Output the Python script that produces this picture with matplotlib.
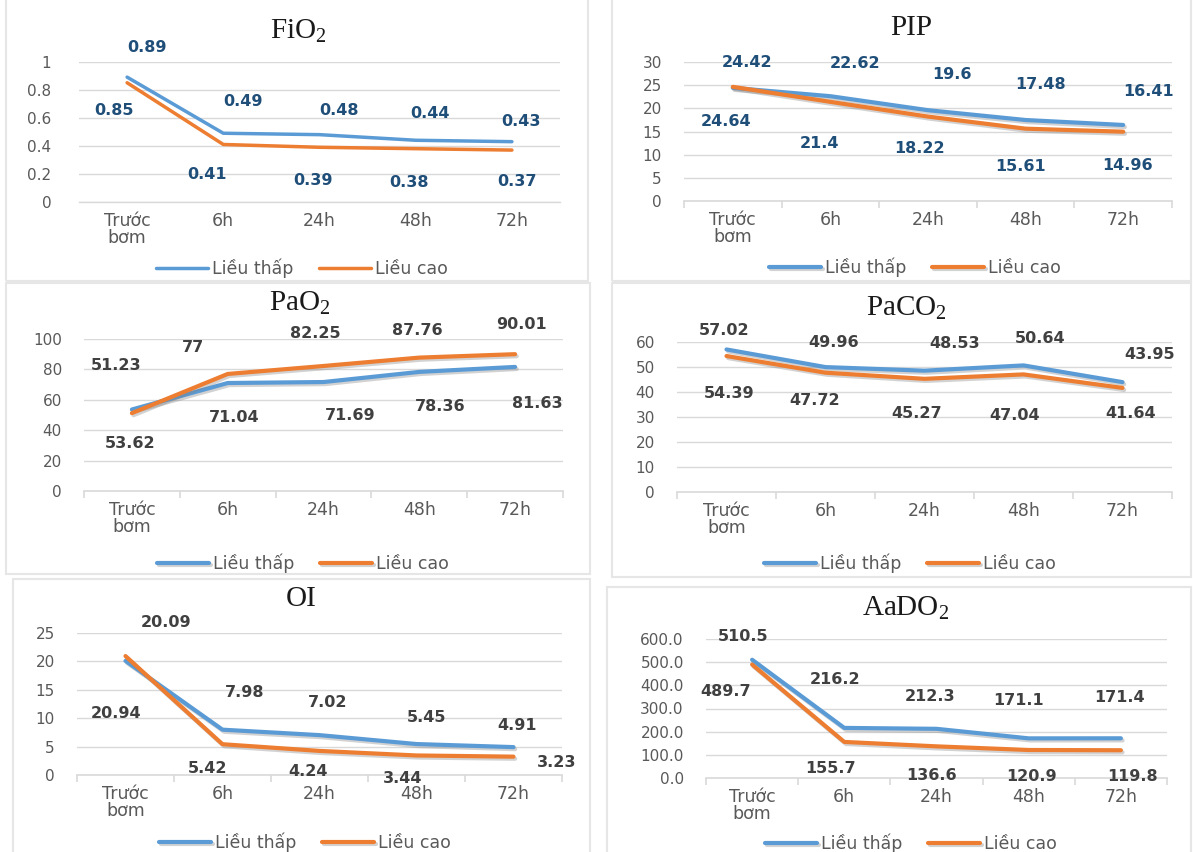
import matplotlib
matplotlib.use("Agg")
import matplotlib.pyplot as plt
import matplotlib.patheffects as pe
from matplotlib.patches import Rectangle

# ---- data ----
categories = ["Trước\nbơm", "6h", "24h", "48h", "72h"]
series_names = ["Liều thấp", "Liều cao"]

fio2_low = [0.89, 0.49, 0.48, 0.44, 0.43]
fio2_high = [0.85, 0.41, 0.39, 0.38, 0.37]

pip_low = [24.42, 22.62, 19.6, 17.48, 16.41]
pip_high = [24.64, 21.4, 18.22, 15.61, 14.96]

pao2_low = [53.62, 71.04, 71.69, 78.36, 81.63]
pao2_high = [51.23, 77, 82.25, 87.76, 90.01]

paco2_low = [57.02, 49.96, 48.53, 50.64, 43.95]
paco2_high = [54.39, 47.72, 45.27, 47.04, 41.64]

oi_low = [20.09, 7.98, 7.02, 5.45, 4.91]
oi_high = [20.94, 5.42, 4.24, 3.44, 3.23]

aado2_low = [510.5, 216.2, 212.3, 171.1, 171.4]
aado2_high = [489.7, 155.7, 136.6, 120.9, 119.8]

# ---- style ----
BLUE = "#5B9BD5"
ORANGE = "#ED7D31"
GRID = "#D9D9D9"
TICK = "#595959"

W, H = 1193, 852
fig = plt.figure(figsize=(W / 100, H / 100), dpi=100)
fig.patch.set_facecolor("white")


def px_axes(left, right, top, bottom):
    return fig.add_axes([left / W, 1 - bottom / H, (right - left) / W, (bottom - top) / H])


def panel_border(x0, y0, x1, y1):
    fig.add_artist(Rectangle((x0 / W, 1 - y1 / H), (x1 - x0) / W, (y1 - y0) / H,
                             transform=fig.transFigure, fill=False,
                             edgecolor="#E6E6E6", lw=1.5))


def draw_panel(title, title_xy, box, low, high, ymax, ystep, yfmt, label_color,
               off_low, off_high, legend_xy, ypad, lw=3.0, shadow=True, axis_line=True,
               label_fmt="{:g}"):
    ax = px_axes(*box)
    x = list(range(len(categories)))
    effects = None
    if shadow:
        effects = [pe.SimpleLineShadow(offset=(1.2, -1.5), shadow_color="#7F7F7F", alpha=0.35),
                   pe.Normal()]
    for vals, col, name in [(low, BLUE, series_names[0]), (high, ORANGE, series_names[1])]:
        ax.plot(x, vals, color=col, lw=lw, label=name, solid_joinstyle="round",
                solid_capstyle="round", path_effects=effects, zorder=3)

    for vals, offs in [(low, off_low), (high, off_high)]:
        for xi, v, (dx, dy) in zip(x, vals, offs):
            ax.annotate(label_fmt.format(v), (xi, v), xytext=(dx, -dy),
                        textcoords="offset pixels", ha="center", va="center",
                        fontsize=11.5, fontweight="bold", color=label_color,
                        annotation_clip=False, zorder=4)

    ax.set_xlim(-0.5, len(categories) - 0.5)
    ax.set_ylim(0, ymax)
    yt = [i * ystep for i in range(int(round(ymax / ystep)) + 1)]
    ax.set_yticks(yt)
    ax.set_yticklabels([yfmt(t) for t in yt])
    ax.set_xticks(x)
    ax.set_xticklabels(categories, linespacing=0.95)
    ax.grid(axis="y", color=GRID, lw=1.0, zorder=0)
    ax.set_axisbelow(True)
    for s in ["top", "right", "left"]:
        ax.spines[s].set_visible(False)
    ax.spines["bottom"].set_color(GRID)
    ax.spines["bottom"].set_linewidth(1.2 if axis_line else 1.0)
    ax.tick_params(axis="y", length=0, pad=ypad, labelsize=11, labelcolor=TICK)
    ax.tick_params(axis="x", which="major", length=0, pad=7, labelsize=12.5, labelcolor=TICK)
    if axis_line:
        ax.set_xticks([i - 0.5 for i in range(len(categories) + 1)], minor=True)
        ax.tick_params(axis="x", which="minor", length=5, width=1.2, color=GRID, direction="out")
    ax.set_facecolor("none")

    fig.text(title_xy[0] / W, 1 - title_xy[1] / H, title, ha="center", va="center",
             fontsize=21, family="Liberation Serif", color="#1A1A1A")

    ax.legend(loc="center", bbox_to_anchor=(legend_xy[0] / W, 1 - legend_xy[1] / H),
              bbox_transform=fig.transFigure, ncol=2, frameon=False, fontsize=12.5,
              handlelength=3.0, handletextpad=0.2, columnspacing=1.5, labelcolor=TICK)
    return ax


plt.rcParams["mathtext.default"] = "regular"

# panel frames
panel_border(6, -5, 588, 281)
panel_border(612, -5, 1191, 281)
panel_border(6, 283, 590, 574)
panel_border(612, 283, 1191, 577)
panel_border(13, 579, 590, 860)
panel_border(607, 587, 1191, 860)

DARKBLUE = "#1F4E79"
DARKGREY = "#404040"

draw_panel("FiO$_{\\mathregular{2}}$", (298, 31), (79, 560, 61.7, 202),
           fio2_low, fio2_high, 1.0, 0.2, lambda t: f"{t:g}", DARKBLUE,
           [(20, -30), (20, -32), (20, -24), (14, -27), (9, -20)],
           [(-13, 28), (-16, 30), (-7, 33), (-7, 34), (5, 31)],
           (302, 268), 20, lw=2.5, shadow=False, axis_line=False)

draw_panel("PIP", (911, 28), (684, 1172, 62, 201),
           pip_low, pip_high, 30, 5, lambda t: f"{t:g}", DARKBLUE,
           [(14, -25), (25, -33), (24, -36), (15, -36), (25, -33)],
           [(-7, 35), (-11, 42), (-8, 32), (-5, 38), (4, 34)],
           (915, 267), 16)

draw_panel("PaO$_{\\mathregular{2}}$", (300, 303), (84, 563, 339, 491),
           pao2_low, pao2_high, 100, 20, lambda t: f"{t:g}", DARKGREY,
           [(-2, 34), (6, 34), (27, 33), (21, 35), (22, 37)],
           [(-16, -48), (-35, -26), (-8, -32), (-2, -27), (6, -30)],
           (303, 563), 16)

draw_panel("PaCO$_{\\mathregular{2}}$", (906, 308), (677, 1172, 342, 492),
           paco2_low, paco2_high, 60, 10, lambda t: f"{t:g}", DARKGREY,
           [(-2, -19), (8, -25), (30, -27), (17, -27), (27, -28)],
           [(3, 37), (-11, 28), (-8, 35), (-9, 41), (8, 26)],
           (910, 563), 16)

draw_panel("OI", (301, 599), (77, 562, 633, 775),
           oi_low, oi_high, 25, 5, lambda t: f"{t:g}", DARKGREY,
           [(41, -38), (22, -37), (8, -33), (10, -27), (4, -22)],
           [(-9, 57), (-15, 24), (-11, 21), (-14, 23), (43, 6)],
           (305, 842), 16)

draw_panel("AaDO$_{\\mathregular{2}}$", (906, 608), (706, 1167, 639, 778),
           aado2_low, aado2_high, 600, 100, lambda t: f"{t:.1f}", DARKGREY,
           [(-9, -23), (-9, -48), (-6, -32), (-10, -38), (-1, -41)],
           [(-26, 27), (-14, 27), (-5, 29), (3, 27), (12, 26)],
           (911, 843), 16, label_fmt="{:.1f}")

fig.savefig("out.png", dpi=100)
